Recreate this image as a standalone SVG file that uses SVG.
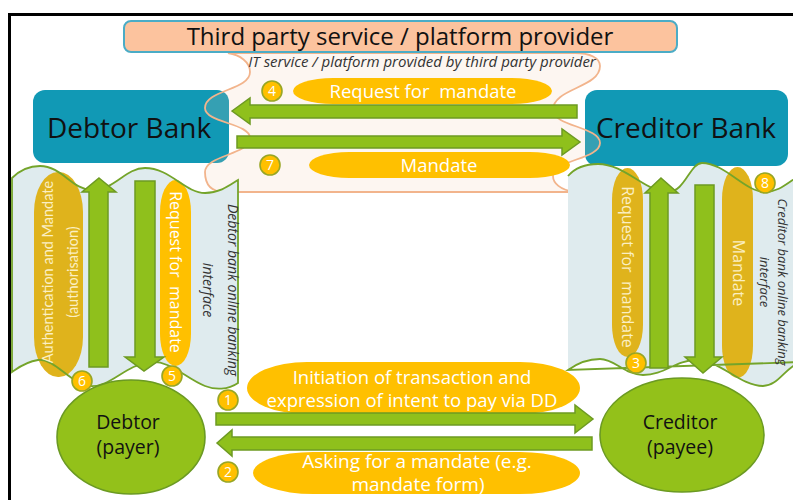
<svg xmlns="http://www.w3.org/2000/svg" width="793" height="500" viewBox="0 0 793 500">
  <defs>
    <style>
      .frame { stroke: #000; stroke-width: 3; fill: none; }
      .bank { fill: #1199B5; }
      .bankTxt { font-family: "Open Sans", "Noto Sans", sans-serif; font-size: 28px; fill: #111; text-anchor: middle; }
      .cloud { fill: #F4C8A8; fill-opacity: 0.16; stroke: #F2B48C; stroke-width: 1.8; }
      .title { fill: #FCC39E; stroke: #4BACC6; stroke-width: 2; }
      .titleTxt { font-family: "Open Sans", "Noto Sans", sans-serif; font-size: 24px; fill: #111; text-anchor: middle; }
      .sub { font-family: "Open Sans", "Noto Sans", sans-serif; font-style: italic; font-size: 15px; fill: #333; text-anchor: middle; }
      .panelFill { fill: #DFEBEE; stroke: none; }
      .panelLine { fill: none; stroke: #74A42A; stroke-width: 1.8; }
      .pill { fill: #FFC000; }
      .pillDark { fill: #DFB31C; }
      .pillTxt { font-family: "Open Sans", "Noto Sans", sans-serif; font-size: 18.5px; fill: #fff; text-anchor: middle; white-space: pre; }
      .vTxt { font-family: "Open Sans", "Noto Sans", sans-serif; font-size: 16px; text-anchor: middle; white-space: pre; }
      .onBright { fill: #fff; }
      .onDark { fill: #FBEFC2; }
      .authTxt { font-family: "Lato", "Open Sans", sans-serif; font-size: 14.5px; fill: #FBEFC2; text-anchor: middle; }
      .arrow { fill: #8FC01C; stroke: #6D9A22; stroke-width: 1.5; stroke-linejoin: miter; }
      .num { fill: #FFC000; stroke: #98A624; stroke-width: 1.6; }
      .numTxt { font-family: "Open Sans", "Noto Sans", sans-serif; font-size: 14px; fill: #fff; text-anchor: middle; }
      .party { fill: #93C11A; stroke: #6B9A22; stroke-width: 1.6; }
      .partyTxt { font-family: "Open Sans", "Noto Sans", sans-serif; font-size: 19.5px; fill: #111; text-anchor: middle; }
      .side { font-family: "Open Sans", "Noto Sans", sans-serif; font-style: italic; font-size: 14px; fill: #333; text-anchor: middle; }
    </style>
  </defs>

  <!-- frame -->
  <path class="frame" d="M 8 14.5 H 793 M 9.5 13 V 500"/>

  <!-- banks -->
  <g id="debtor-bank">
    <rect class="bank" x="33" y="90" width="196" height="73" rx="12"/>
    <text class="bankTxt" x="129" y="138">Debtor Bank</text>
  </g>
  <g id="creditor-bank">
    <rect class="bank" x="585" y="90" width="203" height="76" rx="12"/>
    <text class="bankTxt" x="686" y="138">Creditor Bank</text>
  </g>

  <!-- third party platform area -->
  <g id="platform">
    <path class="cloud" d="M 228 53
      C 240 55, 250 62, 250 72
      C 250 90, 205 90, 205 108
      C 205 123, 250 123, 250 138
      C 250 155, 205 155, 205 172
      C 205 185, 212 192, 225 192
      L 575 192
      C 560 190, 553 183, 553 176
      C 553 160, 600 159, 600 143
      C 600 127, 553 126, 553 110
      C 553 88, 600 88, 600 66
      C 600 58, 590 53, 575 53 Z"/>
    <text class="sub" x="422" y="67">IT service / platform provided by third party provider</text>
  </g>
  <g id="provider">
    <rect class="title" x="124" y="21" width="553" height="31" rx="7"/>
    <text class="titleTxt" x="400" y="45">Third party service / platform provider</text>
  </g>

  <!-- debtor online banking interface -->
  <g id="debtor-interface">
    <path class="panelFill" d="M 12 178 C 20 170, 30 166, 40 166 C 62 166, 72 190, 92 190 C 115 190, 125 168, 145 168 C 170 168, 185 193, 205 193 C 220 193, 230 185, 238 180 L 238 383 C 228 390, 215 390, 205 386 C 185 378, 170 360, 150 362 C 125 365, 110 388, 90 386 C 70 384, 55 358, 38 360 C 25 362, 18 368, 12 372 Z"/>
    <rect class="pillDark" x="34" y="172" width="49" height="205" rx="24" ry="40"/>
    <rect class="pill" x="160" y="180" width="31" height="186" rx="15.5" ry="32"/>
    <path class="panelLine" d="M 12 178 C 20 170, 30 166, 40 166 C 62 166, 72 190, 92 190 C 115 190, 125 168, 145 168 C 170 168, 185 193, 205 193 C 220 193, 230 185, 238 180 L 238 383 C 228 390, 215 390, 205 386 C 185 378, 170 360, 150 362 C 125 365, 110 388, 90 386 C 70 384, 55 358, 38 360 C 25 362, 18 368, 12 372 Z"/>
    <text class="authTxt" transform="translate(60,272) rotate(-90)"><tspan x="0" y="-7">Authentication and Mandate</tspan><tspan x="0" y="18">(authorisation)</tspan></text>
    <text class="vTxt onBright" transform="translate(175,272) rotate(90)" x="0" y="5.5">Request for  mandate</text>
    <text class="side" transform="translate(220,290) rotate(90)"><tspan x="0" y="-8">Debtor bank online banking</tspan><tspan x="0" y="17">interface</tspan></text>
  </g>

  <!-- creditor online banking interface -->
  <g id="creditor-interface">
    <path class="panelFill" d="M 568 176 C 575 168, 585 164, 598 164 C 625 164, 645 192, 668 192 C 685 192, 690 163, 702 163 C 725 163, 745 192, 765 192 C 778 192, 785 185, 800 175 L 800 362 C 785 368, 778 386, 763 386 C 740 386, 720 360, 697 360 C 675 360, 665 375, 643 375 C 625 375, 615 359, 600 359 C 585 359, 575 365, 568 370 Z"/>
    <rect class="pillDark" x="612" y="168" width="31" height="189" rx="15.5" ry="32"/>
    <rect class="pillDark" x="722" y="167" width="31" height="211" rx="15.5" ry="32"/>
    <path class="panelLine" d="M 568 176 C 575 168, 585 164, 598 164 C 625 164, 645 192, 668 192 C 685 192, 690 163, 702 163 C 725 163, 745 192, 765 192 C 778 192, 785 185, 800 175 M 800 362 C 785 368, 778 386, 763 386 C 740 386, 720 360, 697 360 C 675 360, 665 375, 643 375 C 625 375, 615 359, 600 359 C 585 359, 575 365, 568 370 Z"/>
    <text class="vTxt onDark" transform="translate(627,267) rotate(90)" x="0" y="5.5">Request for  mandate</text>
    <text class="vTxt onDark" transform="translate(738,273) rotate(90)" x="0" y="5.5">Mandate</text>
    <text class="side" transform="translate(772,282) rotate(90)" style="font-size:13px"><tspan x="0" y="-6">Creditor bank online banking</tspan><tspan x="0" y="12">interface</tspan></text>
  </g>

  <!-- parties -->
  <g id="debtor">
    <ellipse class="party" cx="131" cy="437" rx="74" ry="57"/>
    <text class="partyTxt" x="128" y="429">Debtor</text>
    <text class="partyTxt" x="128" y="454">(payer)</text>
  </g>
  <g id="creditor">
    <ellipse class="party" cx="682" cy="435" rx="82" ry="57"/>
    <text class="partyTxt" x="680" y="429">Creditor</text>
    <text class="partyTxt" x="680" y="454">(payee)</text>
  </g>

  <!-- message labels -->
  <g id="labels">
    <rect class="pill" x="293" y="78" width="259" height="26" rx="40" ry="13"/>
    <text class="pillTxt" x="423" y="97.5">Request for  mandate</text>
    <rect class="pill" x="309" y="152" width="261" height="26" rx="40" ry="13"/>
    <text class="pillTxt" x="439" y="171.5">Mandate</text>
    <rect class="pill" x="247" y="362" width="333" height="52" rx="60" ry="26"/>
    <text class="pillTxt" x="412" y="384">Initiation of transaction and</text>
    <text class="pillTxt" x="412" y="407">expression of intent to pay via DD</text>
    <rect class="pill" x="253" y="452" width="327" height="42" rx="60" ry="21"/>
    <text class="pillTxt" x="417" y="468" style="font-size:19px">Asking for a mandate (e.g.</text>
    <text class="pillTxt" x="418" y="491" style="font-size:19px">mandate form)</text>
  </g>

  <!-- message flows -->
  <g id="connectors">
    <polygon class="arrow" points="232,111 250,98 250,105 577,105 577,118 250,118 250,124"/>
    <polygon class="arrow" points="237,136 562,136 562,129 580,142 562,155 562,148 237,148"/>
    <polygon class="arrow" points="216,413 575,413 575,405 593,419 575,433 575,425 216,425"/>
    <polygon class="arrow" points="217,443 232,430 232,437 592,437 592,450 232,450 232,456"/>
    <polygon class="arrow" points="99,178 116,192 108,192 108,367 89,367 89,192 82,192"/>
    <polygon class="arrow" points="135,181 155,181 155,357 164,357 144,371 125,357 135,357"/>
    <polygon class="arrow" points="661,178 678,193 668,193 668,368 650,368 650,193 645,193"/>
    <polygon class="arrow" points="695,185 714,185 714,357 722,357 703,373 685,357 695,357"/>
  </g>

  <!-- step numbers -->
  <g id="steps">
    <circle class="num" cx="228" cy="400" r="10"/><text class="numTxt" x="228" y="405">1</text>
    <circle class="num" cx="228" cy="472" r="10"/><text class="numTxt" x="228" y="477">2</text>
    <circle class="num" cx="636" cy="363" r="10"/><text class="numTxt" x="636" y="368">3</text>
    <circle class="num" cx="272" cy="91" r="10"/><text class="numTxt" x="272" y="96">4</text>
    <circle class="num" cx="172" cy="376" r="10"/><text class="numTxt" x="172" y="381">5</text>
    <circle class="num" cx="82" cy="381" r="10"/><text class="numTxt" x="82" y="386">6</text>
    <circle class="num" cx="270" cy="165" r="10"/><text class="numTxt" x="270" y="170">7</text>
    <circle class="num" cx="765" cy="183" r="10"/><text class="numTxt" x="765" y="188">8</text>
  </g>
</svg>
